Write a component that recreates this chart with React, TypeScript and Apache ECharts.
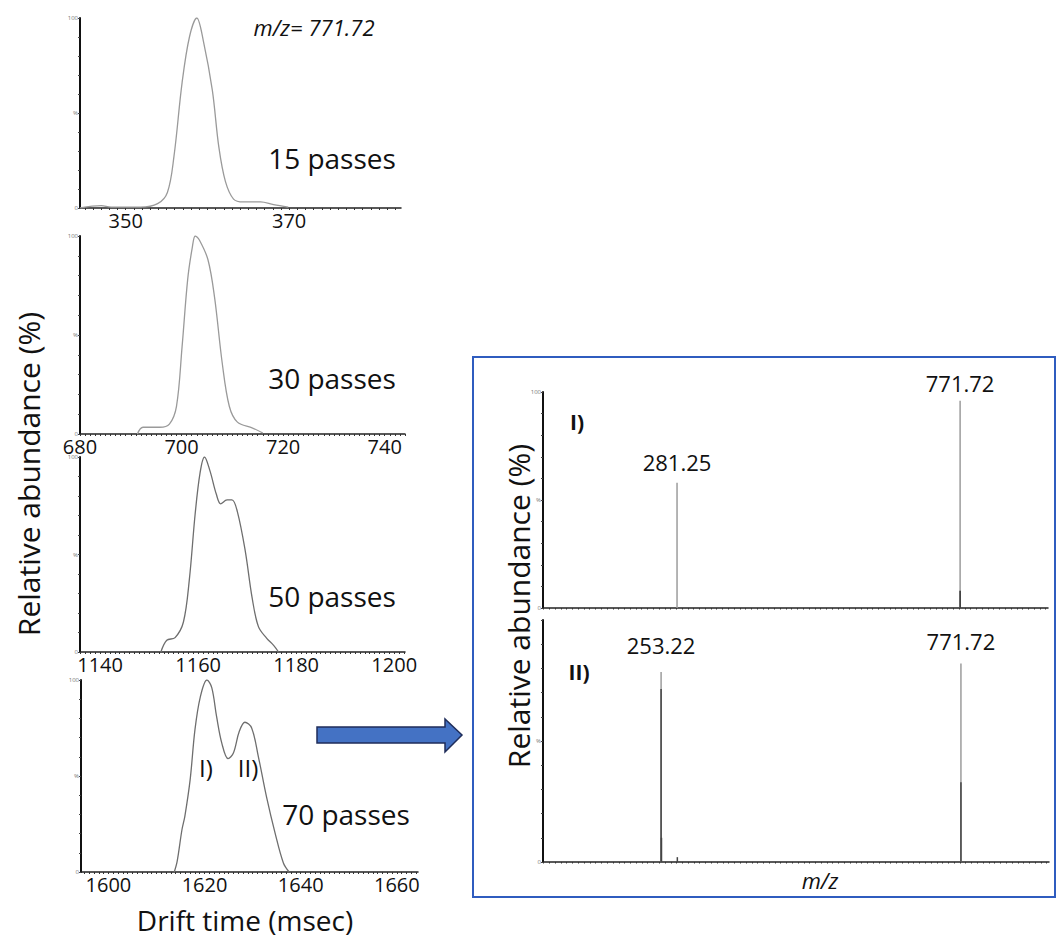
import { useEffect, useRef } from "react";
import * as echarts from "echarts";

// Arrival-time distributions of m/z 771.72 after increasing numbers of cyclic IMS passes
const passes15Time = [344.4, 347.0, 348.2, 351.8, 353.9, 355.1, 355.9, 356.9, 357.8, 358.7, 359.5, 360.6, 361.4, 362.2, 363.2, 364.4, 366.5, 368.1, 369.9];
const passes15Abund = [0, 1.2, 0.5, 0.5, 2.3, 8.2, 27, 66, 90, 100, 88, 62, 32, 14, 4.7, 3.2, 3.2, 1.8, 0.5];

const passes30Time = [691.3, 692.4, 695.7, 697.6, 699.0, 700.1, 701.2, 702.1, 702.7, 703.5, 705.2, 706.5, 708.0, 709.4, 711.0, 714.0, 716.0];
const passes30Abund = [0, 3.4, 3.4, 5, 14, 44, 78, 94, 100, 98, 88, 69, 36, 14, 6, 3, 0.5];

const passes50Time = [1152.4, 1153.6, 1155.3, 1157.0, 1158.2, 1159.4, 1160.4, 1161.3, 1162.4, 1163.7, 1164.6, 1165.9, 1166.9, 1168.0, 1169.6, 1171.0, 1172.3, 1174.0, 1175.4, 1176.4];
const passes50Abund = [0, 6, 7.4, 15.4, 37, 71, 92, 100, 93, 81, 76, 78, 78, 72, 52, 28, 13, 7, 3.4, 0];

const passes70Time = [1613.7, 1614.3, 1615.3, 1615.9, 1617.0, 1618.0, 1619.1, 1620.5, 1621.5, 1622.5, 1623.6, 1624.9, 1626.0, 1627.2, 1628.4, 1629.8, 1631.2, 1632.9, 1634.7, 1636.4, 1637.6];
const passes70Abund = [0, 5.5, 22, 29, 48, 74, 91, 100, 96, 81, 67, 59, 62, 73, 78, 75, 60, 39, 20, 4.7, 0];

// Drift-time axis ranges and labelled ticks
const driftMin = [344.4, 680, 1135.9, 1594.3];
const driftMax = [383.7, 744, 1202.2, 1664.4];
const driftTickLabels = [
  [350, 370],
  [680, 700, 720, 740],
  [1140, 1160, 1180, 1200],
  [1600, 1620, 1640, 1660],
];
const passLabels = ["15 passes", "30 passes", "50 passes", "70 passes"];

// MS spectra of the two mobility-separated species
const mzMin = 49;
const mzMax = 924;
const spectrumIMz = [281.25, 771.72];
const spectrumIInt = [58, 96];
const spectrumIMinorMz = [771.72];
const spectrumIMinorInt = [8];

const spectrumIIMz = [253.22, 771.72];
const spectrumIIInt = [78.5, 82];
const spectrumIIMinorMz = [253.22, 771.72, 253.9, 281.3];
const spectrumIIMinorInt = [71.5, 33, 10, 2];

const FONT = "Open Sans";

const grids = [
  { left: 80, top: 18, width: 321, height: 190 },
  { left: 80, top: 236, width: 325, height: 198 },
  { left: 80, top: 457, width: 325, height: 195 },
  { left: 81, top: 680, width: 337, height: 192 },
  { left: 543, top: 392, width: 505, height: 216 },
  { left: 543, top: 620, width: 506, height: 242 },
];

const lineColors = ["#9a9a9a", "#9a9a9a", "#6e6e6e", "#6e6e6e"];

function range(a: number, b: number, step: number) {
  const out: number[] = [];
  for (let v = a; v <= b + 1e-9; v += step) out.push(Math.round(v * 100) / 100);
  return out;
}

function yAxisFor(gridIndex: number, labelValues: number[]) {
  return {
    gridIndex,
    type: "value",
    min: 0,
    max: 100,
    axisLine: { show: true, onZero: false, lineStyle: { color: "#111", width: 2 } },
    axisTick: { show: true, customValues: range(0, 100, 10), length: 2, lineStyle: { color: "#444", width: 1 } },
    axisLabel: {
      show: true,
      customValues: labelValues,
      formatter: (v: number) => (v === 50 ? "%" : String(v)),
      fontSize: 6,
      color: "#777",
      margin: 2,
      fontFamily: FONT,
    },
    splitLine: { show: false },
  };
}

export default function App() {
  const ref = useRef<HTMLDivElement>(null);

  useEffect(() => {
    if (!ref.current) return;
    const chart = echarts.init(ref.current, undefined, { renderer: "svg" });

    const times = [passes15Time, passes30Time, passes50Time, passes70Time];
    const abunds = [passes15Abund, passes30Abund, passes50Abund, passes70Abund];

    const xAxes: any[] = [];
    const yAxes: any[] = [];
    const series: any[] = [];

    for (let i = 0; i < 4; i++) {
      xAxes.push({
        gridIndex: i,
        type: "value",
        min: driftMin[i],
        max: driftMax[i],
        axisLine: { show: true, onZero: false, lineStyle: { color: "#222", width: 1.5 } },
        axisTick: {
          show: true,
          customValues: range(Math.ceil(driftMin[i]), Math.floor(driftMax[i]), 1),
          length: 2,
          lineStyle: { color: "#333", width: 1 },
        },
        axisLabel: {
          show: true,
          customValues: driftTickLabels[i],
          formatter: (v: number) => String(v),
          fontSize: 20,
          color: "#111",
          margin: 2,
          fontFamily: FONT,
        },
        splitLine: { show: false },
      });
      yAxes.push(yAxisFor(i, [0, 50, 100]));
      series.push({
        type: "line",
        xAxisIndex: i,
        yAxisIndex: i,
        data: times[i].map((t, k) => [t, abunds[i][k]]),
        showSymbol: false,
        smooth: 0.35,
        lineStyle: { color: lineColors[i], width: 1.3 },
        silent: true,
      });
    }

    // Spectra axes
    for (let j = 4; j < 6; j++) {
      xAxes.push({
        gridIndex: j,
        type: "value",
        min: mzMin,
        max: mzMax,
        axisLine: { show: true, onZero: false, lineStyle: { color: "#222", width: 1.5 } },
        axisTick: { show: true, customValues: range(50, 920, 10), length: 1.5, lineStyle: { color: "#333", width: 1 } },
        axisLabel: { show: false },
        splitLine: { show: false },
      });
    }
    yAxes.push(yAxisFor(4, [0, 50, 100]));
    yAxes.push(yAxisFor(5, [0, 50]));

    const labelGapI = [10, 7];
    const labelGapII = [16, 12];

    const peakLabel = (gap: number) => ({
      show: true,
      position: "top",
      distance: gap,
      fontSize: 22,
      color: "#111",
      fontFamily: FONT,
      formatter: (p: any) => p.value[0].toFixed(2),
    });

    series.push({
      type: "bar",
      xAxisIndex: 4,
      yAxisIndex: 4,
      barWidth: 1.5,
      barGap: "-100%",
      itemStyle: { color: "#9c9c9c" },
      data: spectrumIMz.map((m, k) => ({ value: [m, spectrumIInt[k]], label: peakLabel(labelGapI[k]) })),
      silent: true,
    });
    series.push({
      type: "bar",
      xAxisIndex: 4,
      yAxisIndex: 4,
      barWidth: 1.5,
      barGap: "-100%",
      itemStyle: { color: "#333" },
      data: spectrumIMinorMz.map((m, k) => [m, spectrumIMinorInt[k]]),
      silent: true,
    });
    series.push({
      type: "bar",
      xAxisIndex: 5,
      yAxisIndex: 5,
      barWidth: 1.5,
      barGap: "-100%",
      itemStyle: { color: "#9c9c9c" },
      data: spectrumIIMz.map((m, k) => ({ value: [m, spectrumIIInt[k]], label: peakLabel(labelGapII[k]) })),
      silent: true,
    });
    series.push({
      type: "bar",
      xAxisIndex: 5,
      yAxisIndex: 5,
      barWidth: 1.5,
      barGap: "-100%",
      itemStyle: { color: "#444" },
      data: spectrumIIMinorMz.map((m, k) => [m, spectrumIIMinorInt[k]]),
      silent: true,
    });

    const passY = [158, 378, 596, 814];
    const passX = [332, 332, 332, 346];

    const txt = (extra: any) => ({
      fontFamily: FONT,
      fill: "#111",
      align: "center",
      verticalAlign: "middle",
      ...extra,
    });

    const graphic: any[] = [
      // frame round the spectra
      {
        type: "rect",
        shape: { x: 473, y: 357, width: 582, height: 540 },
        style: { fill: "none", stroke: "#2f5cbf", lineWidth: 2 },
        z: 1,
      },
      // arrow from the 70-pass trace to the spectra
      {
        type: "polygon",
        shape: {
          points: [
            [317, 727],
            [445, 727],
            [445, 719],
            [462, 735],
            [445, 752],
            [445, 743],
            [317, 743],
          ],
        },
        style: { fill: "#4472c4", stroke: "#1f2d5a", lineWidth: 1.5 },
      },
      { type: "text", x: 314, y: 27, style: txt({ text: "m/z= 771.72", fontSize: 22, fontStyle: "italic" }) },
      { type: "text", x: 245, y: 920, style: txt({ text: "Drift time (msec)", fontSize: 28 }) },
      {
        type: "text",
        x: 28,
        y: 474,
        rotation: Math.PI / 2,
        style: txt({ text: "Relative abundance (%)", fontSize: 30 }),
      },
      {
        type: "text",
        x: 518,
        y: 606,
        rotation: Math.PI / 2,
        style: txt({ text: "Relative abundance (%)", fontSize: 30 }),
      },
      { type: "text", x: 206, y: 767, style: txt({ text: "I)", fontSize: 24 }) },
      { type: "text", x: 248, y: 767, style: txt({ text: "II)", fontSize: 24 }) },
      { type: "text", x: 577, y: 422, style: txt({ text: "I)", fontSize: 21, fontWeight: "bold" }) },
      { type: "text", x: 579, y: 672, style: txt({ text: "II)", fontSize: 21, fontWeight: "bold" }) },
      { type: "text", x: 820, y: 880, style: txt({ text: "m/z", fontSize: 22, fontStyle: "italic" }) },
    ];

    passLabels.forEach((t, i) => {
      graphic.push({ type: "text", x: passX[i], y: passY[i], style: txt({ text: t, fontSize: 28 }) });
    });

    chart.setOption({
      animation: false,
      backgroundColor: "#ffffff",
      textStyle: { fontFamily: FONT },
      grid: grids.map((g) => ({ ...g, containLabel: false })),
      xAxis: xAxes,
      yAxis: yAxes,
      series,
      graphic,
    });

    return () => chart.dispose();
  }, []);

  return (
    <div
      ref={ref}
      style={{ position: "absolute", left: 0, top: 0, width: 1057, height: 942, background: "#fff" }}
    />
  );
}
